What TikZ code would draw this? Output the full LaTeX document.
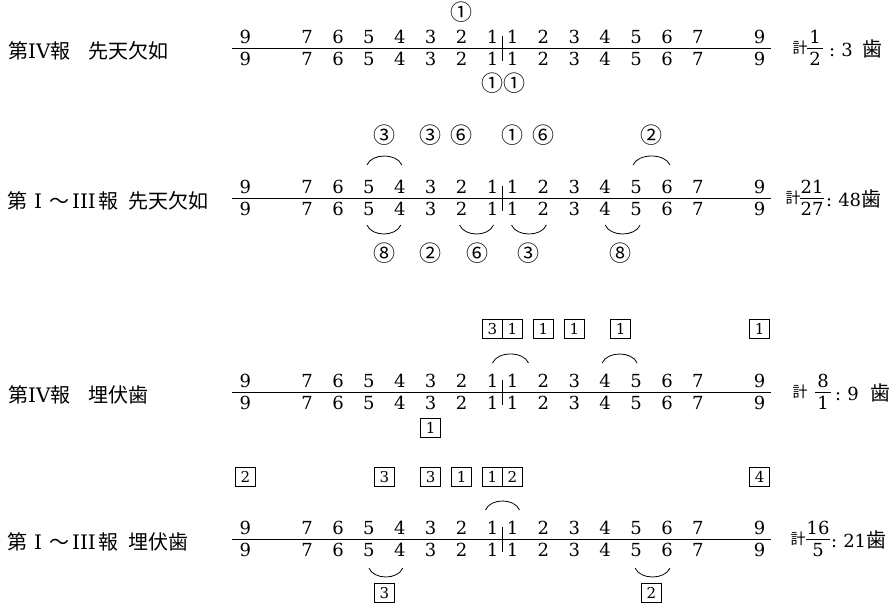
\documentclass[tikz,border=0pt]{standalone}
\usepackage{fontspec}
\setmainfont{DejaVu Serif}
\newfontfamily\cjk{Noto Sans CJK JP}
\begin{document}
\begin{tikzpicture}[x=1pt, y=1pt,
    tooth/.style={inner sep=0pt, font=\fontsize{18}{18}\selectfont},
    ring/.style={inner sep=0pt, font=\cjk\fontsize{22}{22}\selectfont},
    tag/.style={draw, line width=0.7pt, inner sep=0pt, minimum width=20pt,
                minimum height=19pt, font=\fontsize{15}{15}\selectfont},
    jaw/.style={line width=0.8pt},
    bow/.style={line width=0.8pt},
    lbl/.style={anchor=west, inner sep=0pt, font=\cjk\fontsize{20}{20}\selectfont},
    sumlbl/.style={inner sep=0pt, font=\cjk\fontsize{15}{15}\selectfont},
    total/.style={anchor=west, inner sep=0pt, font=\fontsize{18}{18}\selectfont}
  ]
  \useasboundingbox (0,0) rectangle (896,613);
  % the four dental formulae
  \foreach \rw/\yy in {a/565,b/415,c/221,d/74} {
    \begin{scope}[shift={(0,\yy)}]
      \foreach \k in {1,...,7,9} {
        \node[tooth] (\rw UL\k) at ({492.5-(\k-1)*30.9},11) {\k};
        \node[tooth] (\rw LL\k) at ({492.5-(\k-1)*30.9},-11) {\k};
        \node[tooth] (\rw UR\k) at ({512.5+(\k-1)*30.9},11) {\k};
        \node[tooth] (\rw LR\k) at ({512.5+(\k-1)*30.9},-11) {\k};
      }
      \coordinate (\rw W) at (232,0);
      \coordinate (\rw E) at (771,0);
      \coordinate (\rw T) at (502.5,12);
      \coordinate (\rw B) at (502.5,-13);
      \draw[jaw] (\rw W) -- (\rw E);
      \draw[jaw] (\rw T) -- (\rw B);
    \end{scope}
  }

  % row a
  \begin{scope}[shift={(0,565)}]
    \node[lbl] (aName) at (8,-3) {第{\rmfamily IV}報\hspace{18pt}先天欠如};
    \node[ring] (aM1) at (461.6,36) {①};
    \node[ring] (aM2) at (492.5,-35) {①};
    \node[ring] (aM3) at (514,-35) {①};
    \node[sumlbl] (aSum) at (800,0) {計};
    \node[tooth] (aNum) at (815,11) {1};
    \node[tooth] (aDen) at (815,-11) {2};
    \draw[jaw] (807,0) -- (823,0);
    \node[total] (aTot) at (829,-1) {:\hspace{6pt}3\hspace{10pt}{\cjk\fontsize{20}{20}\selectfont 歯}};
  \end{scope}

  % row b
  \begin{scope}[shift={(0,415)}]
    \node[lbl] (bName) at (7,-3) {第\hspace{7pt}{\rmfamily I}\hspace{7pt}～{\rmfamily\hspace{3pt}III\hspace{3pt}}報\hspace{10pt}先天欠如};
    \node[ring] (bM1) at (384.35,63) {③};
    \node[ring] (bM2) at (430.7,63) {③};
    \node[ring] (bM3) at (461.6,63) {⑥};
    \node[ring] (bM4) at (512.5,63) {①};
    \node[ring] (bM5) at (543.4,63) {⑥};
    \node[ring] (bM6) at (651.5,63) {②};
    \node[ring] (bM7) at (384.35,-55) {⑧};
    \node[ring] (bM8) at (430.7,-55) {②};
    \node[ring] (bM9) at (477,-55) {⑥};
    \node[ring] (bM10) at (528,-55) {③};
    \node[ring] (bM11) at (620.6,-55) {⑧};
    \draw[bow] ([shift={(-2,22)}]bUL5.center) .. controls +(5,12) and +(-5,12) .. ([shift={(2,22)}]bUL4.center);
    \draw[bow] ([shift={(-3,22)}]bUR5.center) .. controls +(5,12) and +(-5,12) .. ([shift={(3,22)}]bUR6.center);
    \draw[bow] ([shift={(-2,-16)}]bLL5.center) .. controls +(5,-12) and +(-5,-12) .. ([shift={(1,-16)}]bLL4.center);
    \draw[bow] ([shift={(-2,-16)}]bLL2.center) .. controls +(5,-12) and +(-5,-12) .. ([shift={(1,-16)}]bLL1.center);
    \draw[bow] ([shift={(-1,-16)}]bLR1.center) .. controls +(5,-12) and +(-5,-12) .. ([shift={(3,-16)}]bLR2.center);
    \draw[bow] ([shift={(0,-16)}]bLR4.center) .. controls +(5,-12) and +(-5,-12) .. ([shift={(4,-16)}]bLR5.center);
    \node[sumlbl] (bSum) at (793,0) {計};
    \node[tooth] (bNum) at (812,11) {21};
    \node[tooth] (bDen) at (812,-11) {27};
    \draw[jaw] (800,0) -- (824,0);
    \node[total] (bTot) at (826,-1) {:\hspace{6pt}48{\cjk\fontsize{20}{20}\selectfont 歯}};
  \end{scope}

  % row c
  \begin{scope}[shift={(0,221)}]
    \node[lbl] (cName) at (8,-3) {第{\rmfamily IV}報\hspace{18pt}埋伏歯};
    \node[tag] (cM1) at (492.5,63) {3};
    \node[tag] (cM2) at (512.5,63) {1};
    \node[tag] (cM3) at (543.4,63) {1};
    \node[tag] (cM4) at (574.3,63) {1};
    \node[tag] (cM5) at (620.6,63) {1};
    \node[tag] (cM6) at (759.7,63) {1};
    \node[tag] (cM7) at (430.7,-36) {1};
    \draw[bow] ([shift={(0,18)}]cUL1.center) .. controls +(5,12) and +(-5,12) .. ([shift={(16,18)}]cUR1.center);
    \draw[bow] ([shift={(-3,18)}]cUR4.center) .. controls +(5,12) and +(-5,12) .. ([shift={(1,18)}]cUR5.center);
    \node[sumlbl] (cSum) at (800,0) {計};
    \node[tooth] (cNum) at (823,11) {8};
    \node[tooth] (cDen) at (823,-11) {1};
    \draw[jaw] (815,0) -- (831,0);
    \node[total] (cTot) at (835,-1) {:\hspace{6pt}9\hspace{12pt}{\cjk\fontsize{20}{20}\selectfont 歯}};
  \end{scope}

  % row d
  \begin{scope}[shift={(0,74)}]
    \node[lbl] (dName) at (7,-3) {第\hspace{7pt}{\rmfamily I}\hspace{7pt}～{\rmfamily\hspace{3pt}III\hspace{3pt}}報\hspace{10pt}埋伏歯};
    \node[tag] (dM1) at (245.3,62) {2};
    \node[tag] (dM2) at (384.35,62) {3};
    \node[tag] (dM3) at (430.7,62) {3};
    \node[tag] (dM4) at (461.6,62) {1};
    \node[tag] (dM5) at (492.5,62) {1};
    \node[tag] (dM6) at (512.5,62) {2};
    \node[tag] (dM7) at (759.7,62) {4};
    \node[tag] (dM8) at (384.35,-54) {3};
    \node[tag] (dM9) at (651.5,-54) {2};
    \draw[bow] ([shift={(-7,18)}]dUL1.center) .. controls +(5,12) and +(-5,12) .. ([shift={(7,18)}]dUR1.center);
    \draw[bow] ([shift={(0,-18)}]dLL5.center) .. controls +(5,-12) and +(-5,-12) .. ([shift={(3,-18)}]dLL4.center);
    \draw[bow] ([shift={(-1,-18)}]dLR5.center) .. controls +(5,-12) and +(-5,-12) .. ([shift={(3,-18)}]dLR6.center);
    \node[sumlbl] (dSum) at (798,0) {計};
    \node[tooth] (dNum) at (818,11) {16};
    \node[tooth] (dDen) at (818,-11) {5};
    \draw[jaw] (806,0) -- (830,0);
    \node[total] (dTot) at (831,-1) {:\hspace{6pt}21{\cjk\fontsize{20}{20}\selectfont 歯}};
  \end{scope}
\end{tikzpicture}
\end{document}
